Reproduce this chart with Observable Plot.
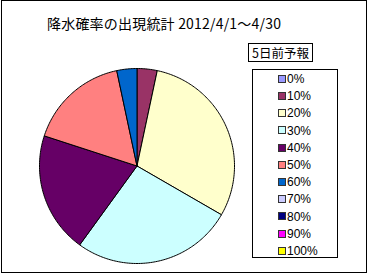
<!DOCTYPE html>
<html><head><meta charset="utf-8">
<script src="https://cdn.jsdelivr.net/npm/d3@7"></script>
<script src="https://cdn.jsdelivr.net/npm/@observablehq/plot@0.6"></script>
<style>
html,body{margin:0;padding:0;background:#fff;}
#wrap{position:relative;width:368px;height:274px;overflow:hidden;font-family:"Noto Sans CJK JP",sans-serif;}
#frame{position:absolute;left:1px;top:0px;width:366px;height:273px;box-sizing:border-box;border:1.5px solid #000;}
#title{position:absolute;left:47px;top:14px;font-size:14px;line-height:18px;white-space:nowrap;color:#000;letter-spacing:0.2px;}
#ltitle{position:absolute;left:248px;top:43px;width:65px;height:19px;box-sizing:border-box;border:1px solid #000;font-size:12.5px;line-height:17px;text-align:center;white-space:nowrap;}
#legend{position:absolute;left:252px;top:69px;width:86px;height:189px;box-sizing:border-box;border:1px solid #000;}
.item{position:absolute;left:25px;height:14px;font-size:12px;line-height:14px;white-space:nowrap;font-family:"Liberation Sans",sans-serif;}
.sw{display:inline-block;width:6px;height:6px;border:1px solid #333;vertical-align:middle;margin-right:1px;position:relative;top:-1px;}
#plot{position:absolute;left:0;top:0;}
</style></head>
<body><div id="wrap"><div id="frame"></div><div id="title">降水確率の出現統計 2012/4/1～4/30</div>
<div id="ltitle">5日前予報</div><div id="legend"></div><div id="plot"></div></div>
<script>
const categories = ["0%","10%","20%","30%","40%","50%","60%","70%","80%","90%","100%"];
const counts = [0,1,9,8,6,5,1,0,0,0,0];
const colors = ["#9999FF","#993366","#FFFFCC","#CCFFFF","#660066","#FF8080","#0066CC","#CCCCFF","#000080","#FF00FF","#FFFF00"];

const total = d3.sum(counts);
const pts = [];
let acc = 0;
categories.forEach((c,i)=>{
  const v = counts[i];
  if (v <= 0) { return; }
  const a0 = acc/total*2*Math.PI, a1 = (acc+v)/total*2*Math.PI;
  acc += v;
  pts.push({cat:c,x:0,y:0});
  const n = Math.max(2, Math.ceil((a1-a0)/(Math.PI/180)));
  for (let k=0;k<=n;k++){
    const a = a0 + (a1-a0)*k/n;
    pts.push({cat:c,x:Math.sin(a),y:Math.cos(a)});
  }
  pts.push({cat:c,x:0,y:0});
});

const cx = 136.5, cy = 165.5, r = 97.5;
const chart = Plot.plot({
  width:368, height:274, margin:0,
  x:{domain:[-1,1], range:[cx-r,cx+r], axis:null},
  y:{domain:[-1,1], range:[cy+r,cy-r], axis:null},
  color:{domain:categories, range:colors},
  marks:[
    Plot.line(pts,{x:"x",y:"y",z:"cat",fill:"cat",stroke:"#000",strokeWidth:1,curve:"linear"})
  ]
});
chart.style.background="transparent";
document.getElementById("plot").appendChild(chart);

const leg = document.getElementById("legend");
categories.forEach((c,i)=>{
  const d = document.createElement("div");
  d.className="item";
  d.style.top = (2 + i*17.2) + "px";
  d.innerHTML = `<span class="sw" style="background:${colors[i]}"></span>${c}`;
  leg.appendChild(d);
});
</script></body></html>
